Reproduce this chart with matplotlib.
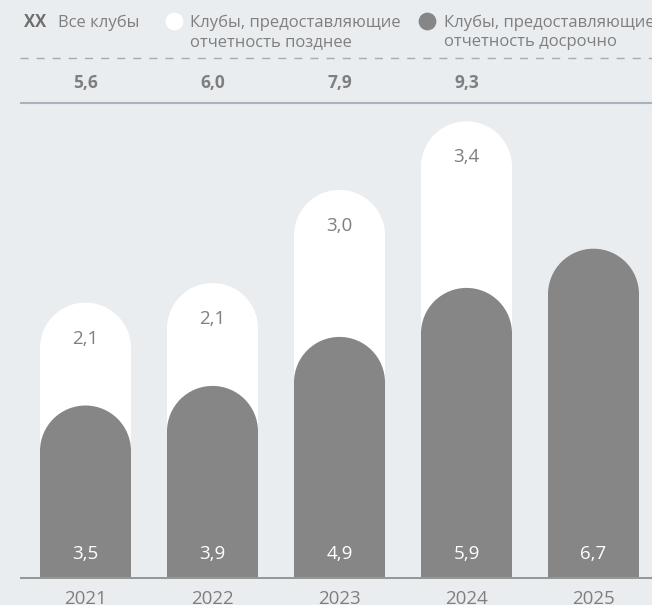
import matplotlib
matplotlib.use("Agg")
import matplotlib.pyplot as plt
from matplotlib.patches import Rectangle, Ellipse
from matplotlib.transforms import blended_transform_factory

years = ["2021", "2022", "2023", "2024", "2025"]
early = [3.5, 3.9, 4.9, 5.9, 6.7]          # Клубы, предоставляющие отчетность досрочно
late = [2.1, 2.1, 3.0, 3.4, None]          # Клубы, предоставляющие отчетность позднее
totals = [5.6, 6.0, 7.9, 9.3]              # Все клубы

legend_xx = "XX"
legend_all = "Все клубы"
legend_late = ["Клубы, предоставляющие", "отчетность позднее"]
legend_early = ["Клубы, предоставляющие", "отчетность досрочно"]

def fmt(v):
    return f"{v:.1f}".replace(".", ",")

BG = "#e9edf0"
GRAY = "#868686"
TXT = "#7f7f7f"
W, H = 652, 605
DPI = 100
FONT = "Open Sans"

fig = plt.figure(figsize=(W / DPI, H / DPI), dpi=DPI, facecolor=BG)
ax = fig.add_axes([0, 0, 1, 1])
ax.set_facecolor(BG)
ax.set_axis_off()

# geometry (pixels -> data)
x0_px, step_px = 85.5, 127.0
base_px, ppu = 577.0, 49.0
ax.set_xlim(-x0_px / step_px, (W - x0_px) / step_px)
ax.set_ylim(-(H - base_px) / ppu, base_px / ppu)

bw = 91.0 / step_px
r = 45.5 / ppu

def rounded_bar(x, h, color, z):
    ax.add_patch(Rectangle((x - bw / 2, 0), bw, h - r, facecolor=color,
                           edgecolor="none", zorder=z))
    ax.add_patch(Ellipse((x, h - r), bw, 2 * r, facecolor=color,
                         edgecolor="none", zorder=z))

def fy(py):
    return 1 - py / H

def fx(px):
    return px / W

for i, y in enumerate(years):
    if late[i] is not None:
        tot = early[i] + late[i]
        rounded_bar(i, tot, "white", 2)
        ax.text(i, tot - 41 / ppu, fmt(late[i]), ha="center", va="baseline",
                color=TXT, fontsize=13.5, family=FONT, zorder=5)
    rounded_bar(i, early[i], GRAY, 3)
    ax.text(i, 18 / ppu, fmt(early[i]), ha="center", va="baseline",
            color="white", fontsize=13.5, family=FONT, zorder=5)
    ax.text(i, -(603.5 - base_px) / ppu, y, ha="center", va="baseline",
            color=TXT, fontsize=13.5, family=FONT)

# baseline
ax.plot([fx(20), 1], [fy(577.5)] * 2, color="#7d7d7d", lw=1.1,
        transform=fig.transFigure, zorder=6, solid_capstyle="butt")

# header lines
ax.plot([fx(20), 1], [fy(58)] * 2, color="#a3abb3", lw=1.0,
        dashes=(5.8, 5.8), transform=fig.transFigure)
ax.plot([fx(20), 1], [fy(103)] * 2, color="#a9b3bd", lw=1.5,
        transform=fig.transFigure, solid_capstyle="butt")

# totals
bt = blended_transform_factory(ax.transData, fig.transFigure)
for i, t in enumerate(totals):
    ax.text(i, fy(88), fmt(t), ha="center", va="baseline", color=TXT,
            fontsize=12.5, fontweight="bold", family=FONT, transform=bt)

# legend
ax.text(fx(24), fy(27), legend_xx, ha="left", va="baseline", color="#6f6f6f",
        fontsize=12, fontweight="bold", family=FONT, transform=fig.transFigure)
ax.text(fx(58), fy(27), legend_all, ha="left", va="baseline", color=TXT,
        fontsize=12, family=FONT, transform=fig.transFigure)
ax.plot([fx(174)], [fy(21)], "o", ms=12.8, color="white", mec="none",
        transform=fig.transFigure, clip_on=False)
for k, line in enumerate(legend_late):
    ax.text(fx(190), fy(27 + 19 * k), line, ha="left", va="baseline", color=TXT,
            fontsize=12, family=FONT, transform=fig.transFigure)
ax.plot([fx(426.5)], [fy(21)], "o", ms=12.8, color=GRAY, mec="none",
        transform=fig.transFigure, clip_on=False)
for k, line in enumerate(legend_early):
    ax.text(fx(444), fy(27 + 19 * k), line, ha="left", va="baseline", color=TXT,
            fontsize=12, family=FONT, transform=fig.transFigure)

fig.savefig("out.png", dpi=DPI, facecolor=BG)
